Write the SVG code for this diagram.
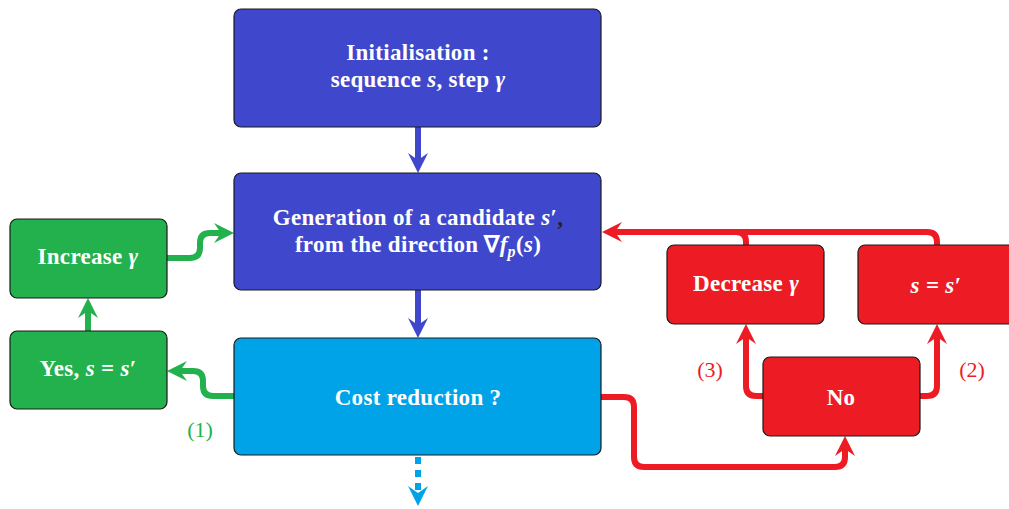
<svg xmlns="http://www.w3.org/2000/svg" width="1009" height="509" viewBox="0 0 1009 509">
<style>
.box{stroke:#1a1a1a;stroke-width:1.2}
.blue{fill:#3f48cc}.cyan{fill:#00a2e8}.green{fill:#22b14c}.red{fill:#ed1c24}
.t{font-family:"Liberation Serif","Times New Roman",serif;font-weight:bold;font-size:23px;fill:#fff;text-anchor:middle;letter-spacing:0.3px}
.m{font-style:italic}
.lab{font-family:"Liberation Serif","Times New Roman",serif;font-size:22px;text-anchor:middle}
.c{fill:none;stroke-width:6;stroke-linejoin:round}
</style>
<defs>
<marker id="aB" markerUnits="userSpaceOnUse" markerWidth="22" markerHeight="22" viewBox="0 -11 22 22" refX="10" refY="0" orient="auto" overflow="visible"><path d="M0,-10 L20,0 L0,10 L7,0 Z" fill="#3f48cc"/></marker>
<marker id="aC" markerUnits="userSpaceOnUse" markerWidth="22" markerHeight="22" viewBox="0 -11 22 22" refX="10" refY="0" orient="auto" overflow="visible"><path d="M0,-10 L20,0 L0,10 L7,0 Z" fill="#00a2e8"/></marker>
<marker id="aG" markerUnits="userSpaceOnUse" markerWidth="22" markerHeight="22" viewBox="0 -11 22 22" refX="10" refY="0" orient="auto" overflow="visible"><path d="M0,-10 L20,0 L0,10 L7,0 Z" fill="#22b14c"/></marker>
<marker id="aR" markerUnits="userSpaceOnUse" markerWidth="22" markerHeight="22" viewBox="0 -11 22 22" refX="10" refY="0" orient="auto" overflow="visible"><path d="M0,-10 L20,0 L0,10 L7,0 Z" fill="#ed1c24"/></marker>
</defs>
<rect width="1009" height="509" fill="#fff"/>
<g id="connectors">
<path class="c" stroke="#3f48cc" d="M418 127 V163" marker-end="url(#aB)"/>
<path class="c" stroke="#3f48cc" d="M418 290 V328" marker-end="url(#aB)"/>
<path class="c" stroke="#00a2e8" stroke-dasharray="7 6" stroke-dashoffset="-2" d="M418 455 V496" marker-end="url(#aC)"/>
<path class="c" stroke="#22b14c" d="M88 331 V308" marker-end="url(#aG)"/>
<path class="c" stroke="#22b14c" d="M167 258 H190 Q200 258 200 248 V243 Q200 233 210 233 H224" marker-end="url(#aG)"/>
<path class="c" stroke="#22b14c" d="M234 396 H213 Q203 396 203 386 V381 Q203 371 193 371 H177" marker-end="url(#aG)"/>
<path class="c" stroke="#ed1c24" d="M601 397 H624 Q634 397 634 407 V457 Q634 467 644 467 H835 Q845 467 845 457 V446" marker-end="url(#aR)"/>
<path class="c" stroke="#ed1c24" d="M763 396 H756 Q746 396 746 386 V334" marker-end="url(#aR)"/>
<path class="c" stroke="#ed1c24" d="M920 396 H927 Q937 396 937 386 V334" marker-end="url(#aR)"/>
<path class="c" stroke="#ed1c24" d="M937 245 V242 Q937 232 927 232 H612" marker-end="url(#aR)"/>
<path class="c" stroke="#ed1c24" d="M746 245 V242 Q746 232 736 232 H720"/>
</g>
<g id="init">
<rect class="box blue" x="234" y="9" width="367" height="118" rx="7"/>
<text class="t" x="418" y="60">Initialisation :</text>
<text class="t" x="418" y="87">sequence <tspan class="m">s</tspan>, step <tspan class="m">γ</tspan></text>
</g>
<g id="generation">
<rect class="box blue" x="234" y="173" width="367" height="117" rx="7"/>
<text class="t" x="418" y="225">Generation of a candidate <tspan class="m">s</tspan>′<tspan fill="#222">,</tspan></text>
<text class="t" x="418" y="252">from the direction ∇<tspan class="m">f</tspan><tspan class="m" font-size="16" dy="5">p</tspan><tspan dy="-5">(</tspan><tspan class="m">s</tspan>)</text>
</g>
<g id="cost">
<rect class="box cyan" x="234" y="338" width="367" height="117" rx="7"/>
<text class="t" x="418" y="405">Cost reduction ?</text>
</g>
<g id="increase">
<rect class="box green" x="10" y="219" width="157" height="79" rx="7"/>
<text class="t" x="88" y="264">Increase <tspan class="m">γ</tspan></text>
</g>
<g id="yes">
<rect class="box green" x="10" y="331" width="157" height="78" rx="7"/>
<text class="t" x="88" y="376">Yes, <tspan class="m">s</tspan> = <tspan class="m">s</tspan>′</text>
</g>
<g id="decrease">
<rect class="box red" x="667" y="245" width="157" height="79" rx="7"/>
<text class="t" x="746" y="291">Decrease <tspan class="m">γ</tspan></text>
</g>
<g id="accept">
<rect class="box red" x="858" y="245" width="157" height="79" rx="7"/>
<text class="t" x="936" y="293"><tspan class="m">s</tspan> = <tspan class="m">s</tspan>′</text>
</g>
<g id="no">
<rect class="box red" x="763" y="357" width="157" height="79" rx="7"/>
<text class="t" x="841" y="405">No</text>
</g>
<g id="labels">
<text class="lab" x="200" y="437" fill="#22b14c">(1)</text>
<text class="lab" x="972" y="377" fill="#ed1c24">(2)</text>
<text class="lab" x="710" y="377" fill="#ed1c24">(3)</text>
</g>
</svg>
